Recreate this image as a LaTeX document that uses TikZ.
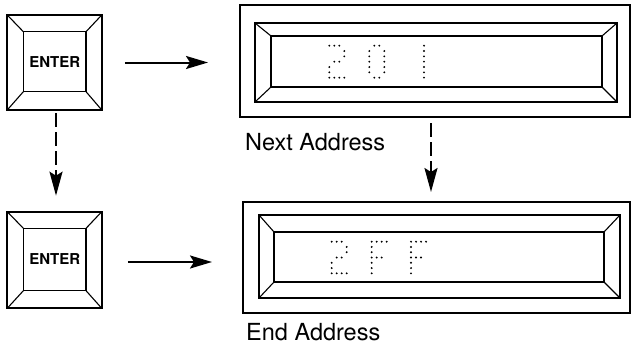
\documentclass[tikz,border=0pt]{standalone}
\usepackage{fontspec}
\setmainfont{TeX Gyre Heros}
\usetikzlibrary{arrows.meta}
\begin{document}
\begin{tikzpicture}[x=1pt,y=-1pt,
  box/.style={draw, rectangle, inner sep=0pt, outer sep=0pt},
  keyout/.style={box, line width=1.8pt},
  keyin/.style={box, line width=1.3pt, font=\fontsize{15}{15}\selectfont\bfseries},
  dispout/.style={box, line width=1.5pt},
  dispbez/.style={box, line width=1.5pt},
  dispwin/.style={box, line width=1.8pt},
  bevel/.style={line width=1.1pt},
  lbl/.style={anchor=base west, inner sep=0pt, font=\fontsize{23.5}{23.5}\selectfont},
  arr/.style={line width=2pt, -{Stealth[length=22pt,width=13pt,inset=4pt]}},
  dasharr/.style={line width=2pt, dash pattern=on 14pt off 5pt, -{Stealth[length=24pt,width=13pt,inset=4pt]}},
  led/.style={fill=black}
]
\useasboundingbox (0,0) rectangle (631,345);

% keys
\node[keyout, minimum width=94.5pt, minimum height=95pt] (k1) at (54.5,62.5) {};
\node[keyin, minimum width=62.7pt, minimum height=60pt] (k1i) at (54.7,61.7) {ENTER};
\node[keyout, minimum width=94.5pt, minimum height=96.6pt] (k2) at (54.5,260) {};
\node[keyin, minimum width=62.7pt, minimum height=62.4pt] (k2i) at (54.7,259.5) {ENTER};

% displays
\node[dispout, minimum width=390pt, minimum height=112pt] (d1) at (435,61) {};
\node[dispbez, minimum width=362pt, minimum height=79pt] (d1b) at (436,62.5) {};
\node[dispwin, minimum width=331pt, minimum height=51pt] (d1w) at (436.5,61.5) {};
\node[dispout, minimum width=387pt, minimum height=111pt] (d2) at (436.5,257.5) {};
\node[dispbez, minimum width=361pt, minimum height=83pt] (d2b) at (439.5,256.5) {};
\node[dispwin, minimum width=330pt, minimum height=50pt] (d2w) at (439,257) {};

% bevels
\foreach \a in {north west, north east, south west, south east}{
  \draw[bevel] (k1.\a) -- (k1i.\a);
  \draw[bevel] (k2.\a) -- (k2i.\a);
  \draw[bevel] (d1b.\a) -- (d1w.\a);
  \draw[bevel] (d2b.\a) -- (d2w.\a);
}

% labels
\node[lbl] (l1) at (245,150) {Next Address};
\node[lbl] (l2) at (246,340) {End Address};

% LED digits
\def\gtwo{0/0,1/0,2/0,3/1,3/2,1/3,2/3,0/4,0/5,0/6,1/6,2/6,3/6}
\def\gzero{1/0,2/0,0/1,3/1,0/2,3/2,0/3,3/3,0/4,3/4,0/5,3/5,1/6,2/6}
\def\gone{0/0,0/1,0/2,0/3,0/4,0/5,0/6}
\def\gF{0/0,1/0,2/0,3/0,0/1,0/2,0/3,1/3,2/3,0/4,0/5,0/6}
\newcommand\ledglyph[4]{%
  \foreach \c/\r in #3 \fill[led] ({#1+\c*5},{#2+\r*#4}) circle (1.05pt);}
\ledglyph{329.3}{45.7}{\gtwo}{5.33}
\ledglyph{369.3}{45.7}{\gzero}{5.33}
\ledglyph{424}{45.7}{\gone}{5.33}
\ledglyph{331.7}{241.7}{\gtwo}{5.27}
\ledglyph{371.7}{241.7}{\gF}{5.27}
\ledglyph{411}{241.7}{\gF}{5.27}

% arrows
\draw[arr, shorten <=23pt, shorten >=32pt] (k1.east) -- (k1.east -| d1.west);
\draw[arr, shorten <=26pt, shorten >=31pt] ([yshift=-2pt]k2.east) -- ([yshift=-2pt]k2.east -| d2.west);
\draw[dasharr, shorten <=3pt, shorten >=16pt] ([xshift=1.5pt]k1.south) -- ([xshift=1.5pt]k2.north);
\draw[dasharr, shorten <=6pt, shorten >=10pt] ([xshift=-4pt]d1.south) -- ([xshift=-4pt]d1.south |- d2.north);
\end{tikzpicture}
\end{document}
